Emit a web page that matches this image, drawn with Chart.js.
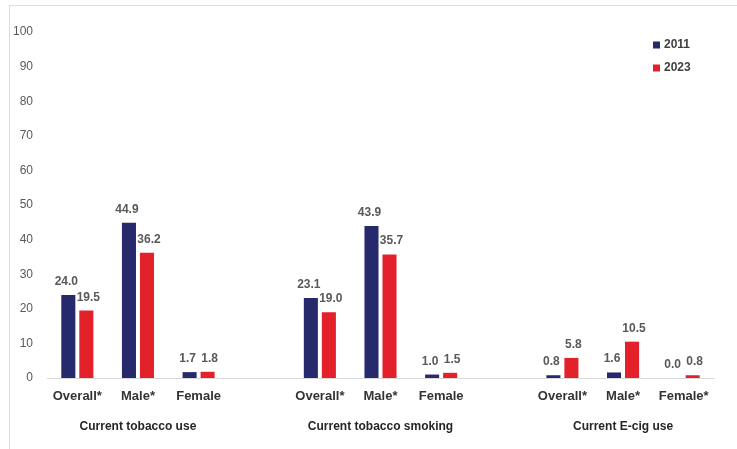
<!DOCTYPE html>
<html>
<head>
<meta charset="utf-8">
<script src="https://cdn.jsdelivr.net/npm/chart.js@4/dist/chart.umd.min.js"></script>
<style>
  html, body { margin: 0; padding: 0; background: #ffffff; }
  #wrap { position: relative; width: 737px; height: 449px; }
  #frame {
    position: absolute; left: 9px; top: 5px; right: 0; bottom: 0;
    border-left: 1px solid #dedede; border-top: 1px solid #dedede;
    pointer-events: none;
  }
</style>
</head>
<body>
<div id="wrap">
  <canvas id="chart" width="737" height="449"></canvas>
  <div id="frame"></div>
</div>
<script>
// Categories (blank slots separate the three indicator groups)
const categories = ['Overall*', 'Male*', 'Female', '', 'Overall*', 'Male*', 'Female', '', 'Overall*', 'Male*', 'Female*'];
const groupLabels = ['Current tobacco use', 'Current tobacco smoking', 'Current E-cig use'];
const groupCenters = [1, 5, 9];
const seriesNames = ['2011', '2023'];
const values2011 = [24.0, 44.9, 1.7, null, 23.1, 43.9, 1.0, null, 0.8, 1.6, 0.0];
const values2023 = [19.5, 36.2, 1.8, null, 19.0, 35.7, 1.5, null, 5.8, 10.5, 0.8];
const yTicks = [0, 10, 20, 30, 40, 50, 60, 70, 80, 90, 100];

const NAVY = '#262a6c';
const RED = '#e2212b';
const FONT = "'Liberation Sans', Arial, sans-serif";

// Value labels above each bar, nudged apart so neighbours do not collide
const valueLabels = {
  id: 'valueLabels',
  afterDatasetsDraw(chart) {
    const ctx = chart.ctx;
    const nudge = [-2, 2];
    ctx.save();
    ctx.font = 'bold 12px ' + FONT;
    ctx.fillStyle = '#595959';
    ctx.textAlign = 'center';
    ctx.textBaseline = 'alphabetic';
    chart.data.datasets.forEach((ds, i) => {
      const meta = chart.getDatasetMeta(i);
      meta.data.forEach((bar, j) => {
        const v = ds.data[j];
        if (v === null || v === undefined) return;
        ctx.fillText(v.toFixed(1), bar.x + nudge[i], bar.y - 10);
      });
    });
    ctx.restore();
  }
};

// Group captions under the category labels
const groupCaptions = {
  id: 'groupCaptions',
  afterDraw(chart) {
    const ctx = chart.ctx;
    const xs = chart.scales.x;
    ctx.save();
    ctx.font = 'bold 12px ' + FONT;
    ctx.fillStyle = '#262626';
    ctx.textAlign = 'center';
    ctx.textBaseline = 'middle';
    groupLabels.forEach((g, k) => {
      ctx.fillText(g, xs.getPixelForValue(groupCenters[k]), 427);
    });
    ctx.restore();
  }
};

// Legend in the upper right corner
const cornerLegend = {
  id: 'cornerLegend',
  afterDraw(chart) {
    const ctx = chart.ctx;
    ctx.save();
    ctx.font = 'bold 12px ' + FONT;
    ctx.textAlign = 'left';
    ctx.textBaseline = 'middle';
    chart.data.datasets.forEach((ds, i) => {
      const y = 45 + i * 23;
      ctx.fillStyle = ds.backgroundColor;
      ctx.fillRect(653, y - 3.5, 7, 7);
      ctx.fillStyle = '#404040';
      ctx.fillText(ds.label, 664, y);
    });
    ctx.restore();
  }
};

new Chart(document.getElementById('chart'), {
  type: 'bar',
  data: {
    labels: categories,
    datasets: [
      { label: seriesNames[0], data: values2011, backgroundColor: NAVY },
      { label: seriesNames[1], data: values2023, backgroundColor: RED }
    ]
  },
  options: {
    responsive: false,
    animation: false,
    devicePixelRatio: 1,
    layout: { padding: { top: 32, right: 23, left: 0, bottom: 0 } },
    datasets: { bar: { categoryPercentage: 0.594, barPercentage: 0.78 } },
    plugins: { legend: { display: false }, tooltip: { enabled: false } },
    scales: {
      x: {
        grid: { display: false, drawTicks: false },
        border: { display: true, color: '#d9d9d9', width: 1 },
        ticks: { color: '#333333', font: { family: FONT, size: 13, weight: 'bold' }, padding: 11, maxRotation: 0, autoSkip: false },
        afterFit(scale) { scale.height = 71; }
      },
      y: {
        min: 0, max: 100,
        grid: { display: false, drawTicks: false },
        border: { display: false },
        afterBuildTicks(scale) { scale.ticks = yTicks.map(v => ({ value: v })); },
        ticks: { color: '#595959', font: { family: FONT, size: 12 }, padding: 14 },
        afterFit(scale) { scale.width = 47; }
      }
    }
  },
  plugins: [valueLabels, groupCaptions, cornerLegend]
});
</script>
</body>
</html>
